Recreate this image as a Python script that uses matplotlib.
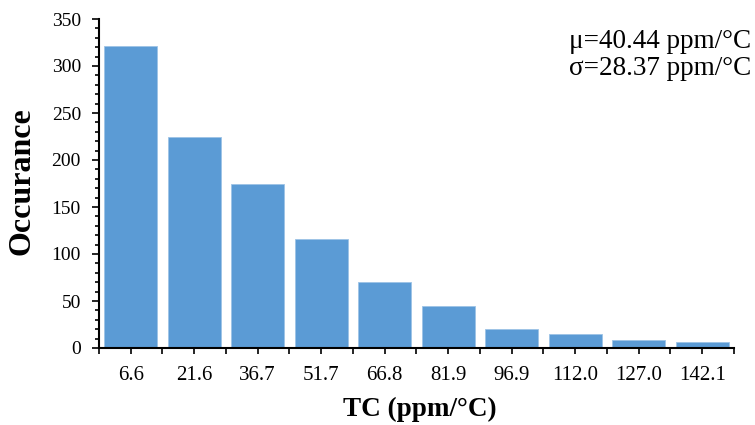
import matplotlib.pyplot as plt
import numpy as np

# histogram data
tc_labels = ['6.6', '21.6', '36.7', '51.7', '66.8', '81.9', '96.9', '112.0', '127.0', '142.1']
counts = [321, 224, 175, 116, 70, 45, 20, 15, 8, 6]

plt.rcParams['font.family'] = ['Liberation Serif', 'DejaVu Serif']

W, H = 755, 425
fig = plt.figure(figsize=(7.55, 4.25), dpi=100)
ax = fig.add_axes([99 / W, 1 - 348 / H, 635 / W, 329 / H])

x = np.arange(len(counts))
ax.bar(x, counts, width=0.84, color='#5B9BD5', edgecolor='#9DC3E6', linewidth=0.6)

ax.set_xlim(-0.5, len(counts) - 0.5)
ax.set_ylim(0, 350)

# x ticks: labels at centers, tick marks at boundaries and centers
ax.set_xticks(x)
ax.set_xticklabels(tc_labels, fontsize=15)
ax.set_xticks(np.arange(-0.5, len(counts), 1.0), minor=True)
ax.tick_params(axis='x', which='major', length=4.5, width=1.2, direction='out', pad=8.5)
ax.tick_params(axis='x', which='minor', length=4.5, width=1.2, direction='out')

ax.set_yticks(np.arange(0, 351, 50))
ax.set_yticks(np.arange(0, 351, 10), minor=True)
ax.tick_params(axis='y', which='major', length=5, width=1.2, direction='out', labelsize=14, pad=8)
ax.tick_params(axis='y', which='minor', length=3, width=1.2, direction='out')

for s in ['top', 'right']:
    ax.spines[s].set_visible(False)
for s in ['left', 'bottom']:
    ax.spines[s].set_linewidth(1.5)

fig.text(420 / W, 1 - 409 / H, 'TC (ppm/°C)', fontsize=19.5, fontweight='bold',
         ha='center', va='center')
fig.text(22 / W, 1 - 181 / H, 'Occurance', fontsize=23, fontweight='bold',
         rotation=90, ha='center', va='center')

fig.text(751 / W, 1 - 48 / H, 'μ=40.44 ppm/°C', fontsize=19.5, ha='right', va='baseline')
fig.text(751 / W, 1 - 75 / H, 'σ=28.37 ppm/°C', fontsize=19.5, ha='right', va='baseline')

fig.savefig('out.png', dpi=100)
